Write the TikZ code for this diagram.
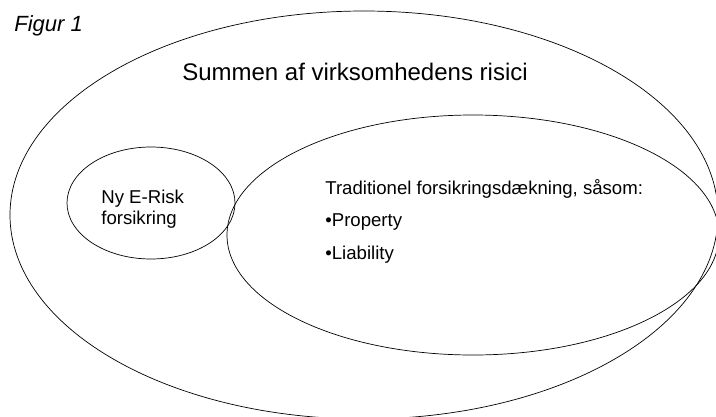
\documentclass[tikz,border=0pt]{standalone}
\usepackage{fontspec}
\setmainfont{Liberation Sans}
\usetikzlibrary{shapes.geometric}

\begin{document}
\begin{tikzpicture}[x=1pt,y=-1pt,line width=0.7pt,risk/.style={draw,ellipse,inner sep=0pt},label text/.style={anchor=base west,inner sep=0pt,font=\fontsize{18.6}{21}\selectfont}]
\tikzstyle{heading} = [anchor=base,inner sep=0pt,font=\fontsize{24}{28}\selectfont]

\useasboundingbox (0,0) rectangle (716,416);

% Centres of the ellipses
\coordinate (totalc) at (364,215);
\coordinate (tradc) at (473,235);
\coordinate (eriskc) at (151,203);

% Draw ellipses
\node[risk,minimum width=708pt,minimum height=408pt] (total) at (totalc) {};
\node[risk,minimum width=492pt,minimum height=240pt] (trad) at (tradc) {};
\node[risk,minimum width=168pt,minimum height=112pt] (erisk) at (eriskc) {};

% Title
\node[anchor=base west,inner sep=0pt,font=\fontsize{22}{26}\selectfont\itshape] (figur) at (14,31) {Figur 1};
\node[heading] (summen) at (355,80) {Summen af virksomhedens risici};

% E-Risk
\node[label text] (nyrisk) at (101,203) {Ny E-Risk};
\node[label text] (forsikring) at (101,224) {forsikring};

% Traditionel
\node[label text] (traditionel) at (325,194) {Traditionel forsikringsdækning, såsom:};
\node[label text] (property) at (325,226) {•Property};
\node[label text] (liability) at (325,259) {•Liability};

\end{tikzpicture}
\end{document}
